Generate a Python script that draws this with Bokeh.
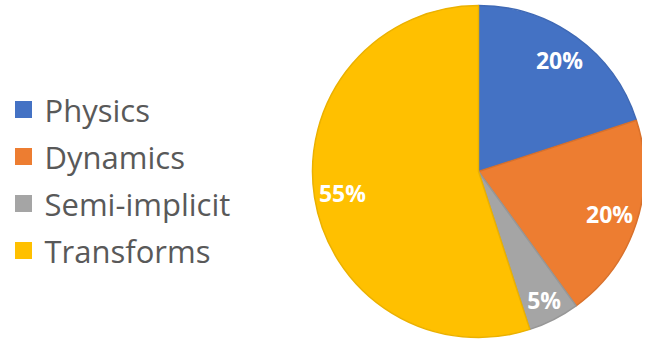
import math
from bokeh.plotting import figure
from bokeh.models import ColumnDataSource, Range1d
from bokeh.embed import file_html
from bokeh.resources import INLINE

# ---- data ----
categories = ["Physics", "Dynamics", "Semi-implicit", "Transforms"]
shares = [20, 20, 5, 55]
labels = ["20%", "20%", "5%", "55%"]
colors = ["#4472C4", "#ED7D31", "#A5A5A5", "#FFC000"]
edge_colors = ["#3F69B5", "#D9712B", "#979797", "#EBB100"]

W, H = 642, 341
p = figure(width=W, height=H, output_backend="svg", toolbar_location=None,
           x_range=Range1d(0, W), y_range=Range1d(0, H), min_border=0)
p.axis.visible = False
p.grid.visible = False
p.outline_line_color = None
p.background_fill_color = "white"
p.border_fill_color = "white"

# pie geometry (figure pixels, y up)
cx, cy, r = 478, H - 171, 166

total = sum(shares)
starts, ends, lx, ly = [], [], [], []
cum = 0.0
for i, s in enumerate(shares):
    a0 = math.pi / 2 - cum / total * 2 * math.pi
    cum += s
    a1 = math.pi / 2 - cum / total * 2 * math.pi
    starts.append(a0)
    ends.append(a1)
    mid = (a0 + a1) / 2
    rf = 0.87 if s < 10 else 0.83
    lx.append(cx + rf * r * math.cos(mid))
    ly.append(cy + rf * r * math.sin(mid))

src = ColumnDataSource(dict(x=[cx] * 4, y=[cy] * 4, start=starts, end=ends,
                            color=colors, edge=edge_colors, lx=lx, ly=ly,
                            label=labels, cat=categories))
p.wedge(x="x", y="y", radius=r, start_angle="start", end_angle="end",
        direction="clock", fill_color="color", line_color="edge",
        line_width=1.5, source=src)
p.text(x="lx", y="ly", text="label", source=src, text_color="white",
       text_font={"value": "Open Sans"}, text_font_style="bold",
       text_font_size="23px", text_align="center", text_baseline="middle")

# legend
row0, step = H - 109, 47
leg = ColumnDataSource(dict(
    x=[23] * 4,
    tx=[44] * 4,
    y=[row0 - i * step for i in range(4)],
    color=colors, cat=categories))
p.scatter(x="x", y="y", marker="square", size=17, fill_color="color",
          line_color=None, source=leg)
p.text(x="tx", y="y", text="cat", source=leg, text_color="#595959",
       text_font={"value": "Open Sans"}, text_font_size="31px",
       text_align="left", text_baseline="middle")

open("out.html", "w").write(file_html(p, INLINE))
